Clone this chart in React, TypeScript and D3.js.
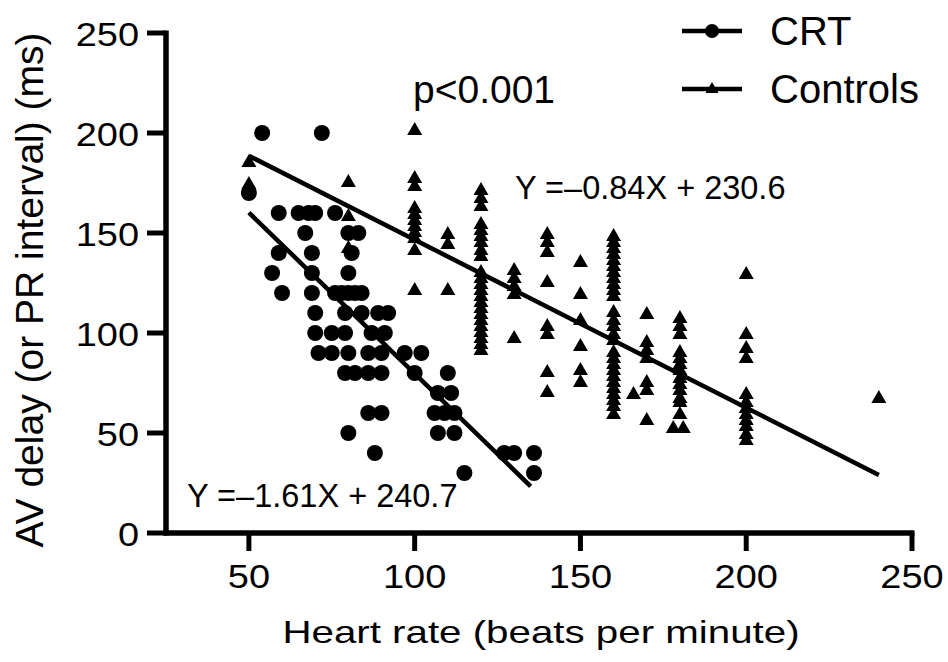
import React from 'react';
import * as d3 from 'd3';

const xTicks = [50, 100, 150, 200, 250];
const yTicks = [0, 50, 100, 150, 200, 250];
const xTitle = 'Heart rate (beats per minute)';
const yTitle = 'AV delay (or PR interval) (ms)';
const legendItems = ['CRT', 'Controls'];
const pText = 'p<0.001';
const controlEq = 'Y =–0.84X + 230.6';
const crtEq = 'Y =–1.61X + 240.7';

// CRT group: [heart rate, AV delay]
const crtPoints: [number, number][] = [
  [50, 170], [54, 200], [72, 200],
  [59, 160], [65, 160], [68, 160], [70, 160], [76, 160],
  [67, 150], [80, 150], [83, 150],
  [59, 140], [69, 140], [81, 140],
  [57, 130], [69, 130], [80, 130],
  [60, 120], [69, 120], [76, 120], [78, 120], [80, 120], [82, 120], [84, 120],
  [70, 110], [79, 110], [84, 110], [89, 110], [92, 110],
  [70, 100], [75, 100], [79, 100], [87, 100], [91, 100],
  [71, 90], [75, 90], [80, 90], [86, 90], [90, 90], [97, 90], [102, 90],
  [79, 80], [82, 80], [86, 80], [90, 80], [100, 80], [110, 80],
  [107, 70], [111, 70],
  [86, 60], [90, 60], [106, 60], [109, 60], [112, 60],
  [80, 50], [107, 50], [112, 50],
  [88, 40], [127, 40], [130, 40], [136, 40],
  [115, 30], [136, 30],
];

// Controls group: [heart rate, PR interval]
const controlPoints: [number, number][] = [
  [50, 186], [50, 175],
  [80, 176], [80, 159], [80, 143],
  [100, 202], [100, 178], [100, 174], [100, 163], [100, 160], [100, 157], [100, 154], [100, 151], [100, 148], [100, 142], [100, 122],
  [110, 150], [110, 145], [110, 122],
  [120, 172], [120, 168], [120, 164], [120, 155], [120, 152], [120, 149], [120, 146], [120, 142], [120, 139],
  [120, 131], [120, 128], [120, 125], [120, 122], [120, 119], [120, 116], [120, 113], [120, 110], [120, 107],
  [120, 104], [120, 101], [120, 98], [120, 95], [120, 92],
  [130, 132], [130, 128], [130, 124], [130, 120], [130, 98],
  [140, 150], [140, 146], [140, 141], [140, 126], [140, 104], [140, 100], [140, 81], [140, 71],
  [150, 136], [150, 120], [150, 107], [150, 94], [150, 82], [150, 76],
  [160, 149], [160, 146], [160, 143], [160, 140], [160, 137], [160, 134], [160, 131], [160, 128], [160, 125],
  [160, 122], [160, 119], [160, 111], [160, 107], [160, 104], [160, 100], [160, 97], [160, 91], [160, 88],
  [160, 85], [160, 82], [160, 79], [160, 76], [160, 73], [160, 70], [160, 67], [160, 64], [160, 60],
  [166, 70],
  [170, 110], [170, 96], [170, 92], [170, 88], [170, 76], [170, 72], [170, 57],
  [178, 53], [181, 53],
  [180, 108], [180, 104], [180, 100], [180, 91], [180, 88], [180, 85], [180, 82], [180, 78], [180, 75],
  [180, 72], [180, 68], [180, 66], [180, 60],
  [200, 130], [200, 100], [200, 93], [200, 88], [200, 70], [200, 66], [200, 63], [200, 60], [200, 57],
  [200, 54], [200, 50], [200, 47],
  [240, 68],
];

const crtFit = { slope: -1.61, intercept: 240.7, from: 50, to: 135 };
const controlFit = { slope: -0.84, intercept: 230.6, from: 50, to: 240 };

const FONT = '"Liberation Sans", Arial, Helvetica, sans-serif';
const TRI = 'M0,-7L7.5,6L-7.5,6Z';
const TRI_SMALL = 'M0,-6L6.5,5L-6.5,5Z';

export default function App() {
  const W = 948;
  const H = 662;
  const x = d3.scaleLinear().domain([25, 250]).range([166, 912]);
  const y = d3.scaleLinear().domain([0, 250]).range([533, 33]);

  const fitPath = (f: { slope: number; intercept: number; from: number; to: number }) =>
    d3.line<number>()
      .x((d) => x(d))
      .y((d) => y(f.slope * d + f.intercept))([f.from, f.to]) || '';

  const x0 = x.range()[0];
  const y0 = y.range()[0];

  return (
    <svg
      width={W}
      height={H}
      viewBox={`0 0 ${W} ${H}`}
      style={{ position: 'absolute', left: 0, top: 0, background: '#fff', display: 'block' }}
      fontFamily={FONT}
    >
      <rect x={0} y={0} width={W} height={H} fill="#fff" />

      {/* axes */}
      <line x1={x0} y1={y(250) - 2.5} x2={x0} y2={y0 + 2.5} stroke="#000" strokeWidth={5.5} />
      <line x1={x0 - 2.5} y1={y0} x2={x(250) + 2.5} y2={y0} stroke="#000" strokeWidth={5.5} />

      {yTicks.map((t) => (
        <g key={'yt' + t}>
          <line x1={147} x2={x0} y1={y(t)} y2={y(t)} stroke="#000" strokeWidth={5} />
          <text
            transform={`translate(139,${y(t) + 13}) scale(1.15,1)`}
            textAnchor="end"
            fontSize={33}
            fill="#000"
          >
            {t}
          </text>
        </g>
      ))}

      {xTicks.map((t) => (
        <g key={'xt' + t}>
          <line x1={x(t)} x2={x(t)} y1={y0} y2={y0 + 18} stroke="#000" strokeWidth={5} />
          <text
            transform={`translate(${x(t)},588) scale(1.15,1)`}
            textAnchor="middle"
            fontSize={33}
            fill="#000"
          >
            {t}
          </text>
        </g>
      ))}

      {/* axis titles */}
      <text
        transform={`translate(541,643) scale(1.3,1)`}
        textAnchor="middle"
        fontSize={31}
        fill="#000"
      >
        {xTitle}
      </text>
      <text
        transform={`translate(43,290) rotate(-90)`}
        textAnchor="middle"
        fontSize={39}
        fill="#000"
      >
        {yTitle}
      </text>

      {/* regression lines */}
      <path d={fitPath(crtFit)} stroke="#000" strokeWidth={4.5} fill="none" />
      <path d={fitPath(controlFit)} stroke="#000" strokeWidth={4.5} fill="none" />

      {/* controls */}
      {controlPoints.map((p, i) => (
        <path key={'c' + i} d={TRI} transform={`translate(${x(p[0])},${y(p[1])})`} fill="#000" />
      ))}

      {/* CRT */}
      {crtPoints.map((p, i) => (
        <circle key={'r' + i} cx={x(p[0])} cy={y(p[1])} r={8} fill="#000" />
      ))}

      {/* annotations */}
      <text x={413} y={103} fontSize={39} fill="#000">{pText}</text>
      <text x={515} y={199} fontSize={32.5} fill="#000">{controlEq}</text>
      <text x={187} y={507} fontSize={32.5} fill="#000">{crtEq}</text>

      {/* legend */}
      {legendItems.map((name, i) => {
        const ly = i === 0 ? 31 : 89;
        return (
          <g key={name}>
            <line x1={682} x2={742} y1={ly} y2={ly} stroke="#000" strokeWidth={4.5} />
            {i === 0 ? (
              <circle cx={712} cy={ly} r={7} fill="#000" />
            ) : (
              <path d={TRI_SMALL} transform={`translate(712,${ly - 1})`} fill="#000" />
            )}
            <text x={770} y={ly + 14} fontSize={40} fill="#000">
              {name}
            </text>
          </g>
        );
      })}
    </svg>
  );
}
